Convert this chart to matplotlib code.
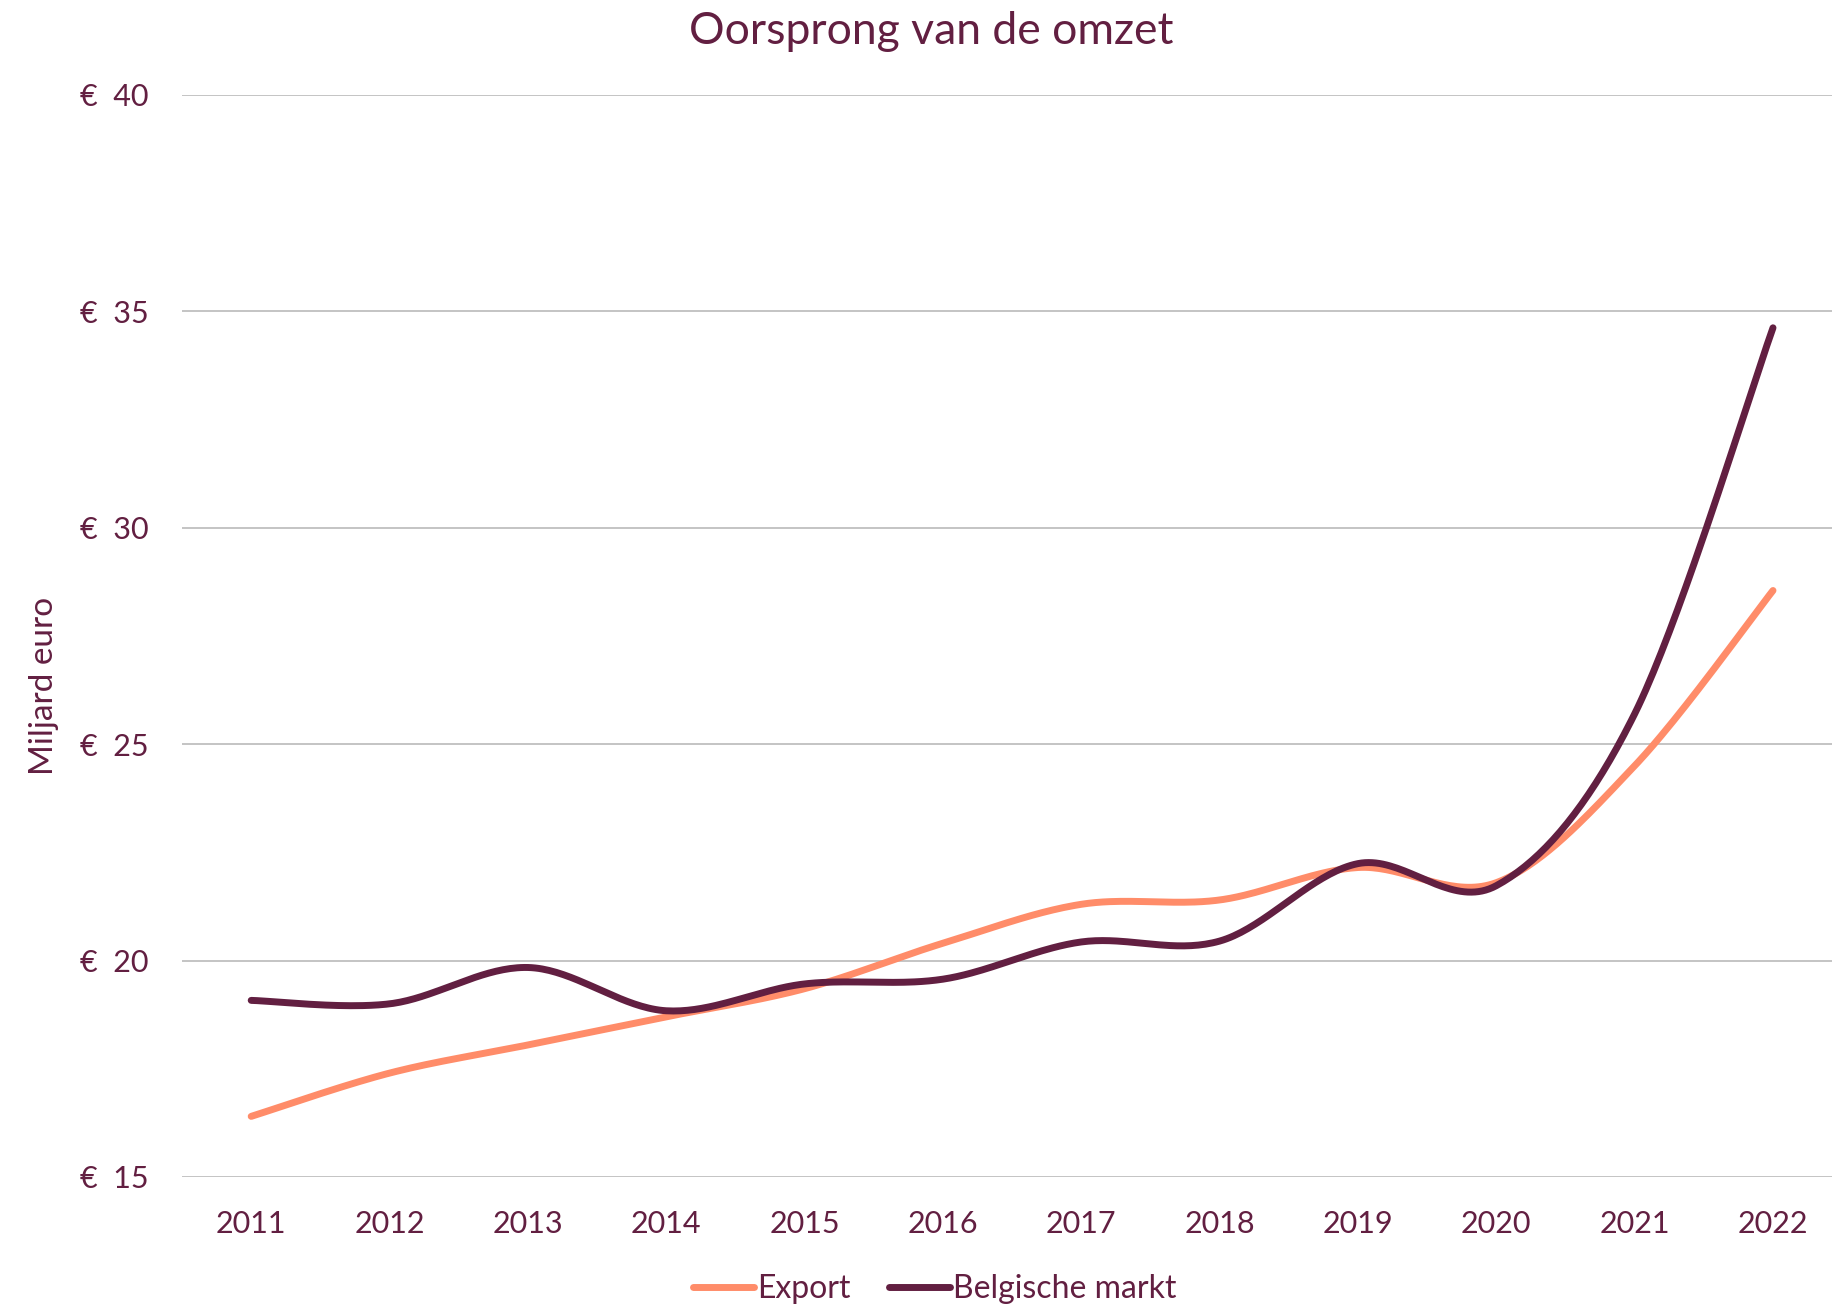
import numpy as np
import matplotlib
matplotlib.use("Agg")
import matplotlib.pyplot as plt

years = ["2011", "2012", "2013", "2014", "2015", "2016", "2017", "2018", "2019", "2020", "2021", "2022"]
export = [16.4, 17.4, 18.05, 18.7, 19.35, 20.4, 21.3, 21.4, 22.15, 21.8, 24.5, 28.55]
belgische_markt = [19.08, 19.0, 19.84, 18.84, 19.46, 19.57, 20.43, 20.45, 22.24, 21.73, 25.7, 34.62]
yticks = [15, 20, 25, 30, 35, 40]

PURPLE = "#621F41"
ORANGE = "#FF8C69"
FONT = ["Lato", "DejaVu Sans"]


def smooth(xs, ys, n=40):
    """Excel-style smoothed line: cubic Bezier with Catmull-Rom control points."""
    xs = np.asarray(xs, float)
    ys = np.asarray(ys, float)
    P = np.column_stack([xs, ys])
    out = []
    t = np.linspace(0, 1, n)[:, None]
    for i in range(len(P) - 1):
        p0 = P[i - 1] if i > 0 else P[i]
        p1 = P[i]
        p2 = P[i + 1]
        p3 = P[i + 2] if i + 2 < len(P) else P[i + 1]
        c1 = p1 + (p2 - p0) / 6.0
        c2 = p2 - (p3 - p1) / 6.0
        seg = ((1 - t) ** 3) * p1 + 3 * ((1 - t) ** 2) * t * c1 + 3 * (1 - t) * t ** 2 * c2 + t ** 3 * p2
        out.append(seg if i == 0 else seg[1:])
    seg = np.vstack(out)
    return seg[:, 0], seg[:, 1]


plt.rcParams["font.family"] = FONT
fig = plt.figure(figsize=(18.33, 13.06), dpi=100)
ax = fig.add_axes([0.0993, 0.0988, 1.005 - 0.0993, 0.9273 - 0.0988])

x = np.arange(len(years))
sx, sy = smooth(x, export)
ax.plot(sx, sy, color=ORANGE, lw=5, solid_capstyle="round", label="Export", zorder=3)
sx, sy = smooth(x, belgische_markt)
ax.plot(sx, sy, color=PURPLE, lw=5, solid_capstyle="round", label="Belgische markt", zorder=4)

ax.set_xlim(-0.5, len(years) - 0.5)
ax.set_ylim(15, 40)
ax.set_yticks(yticks)
ax.set_yticklabels([f"€  {v}" for v in yticks])
ax.set_xticks(x)
ax.set_xticklabels(years)
ax.grid(axis="y", color="#BFBFBF", lw=1.3)
ax.set_axisbelow(True)
for s in ax.spines.values():
    s.set_visible(False)
ax.tick_params(axis="both", length=0, colors=PURPLE, labelsize=22)
ax.tick_params(axis="y", pad=24)
ax.tick_params(axis="x", pad=24)

fig.text(0.508, 0.9755, "Oorsprong van de omzet", ha="center", va="center",
         fontsize=32, color=PURPLE)
fig.text(0.024, 0.475, "Miljard euro", rotation=90, ha="center", va="center",
         fontsize=24, color=PURPLE)

leg = fig.legend(loc="center", bbox_to_anchor=(0.51, 0.013), ncol=2, frameon=False,
                 fontsize=23, handlelength=1.9, handletextpad=0.1, columnspacing=1.2,
                 labelcolor=PURPLE)

fig.savefig("out.png", dpi=100, facecolor="white")
